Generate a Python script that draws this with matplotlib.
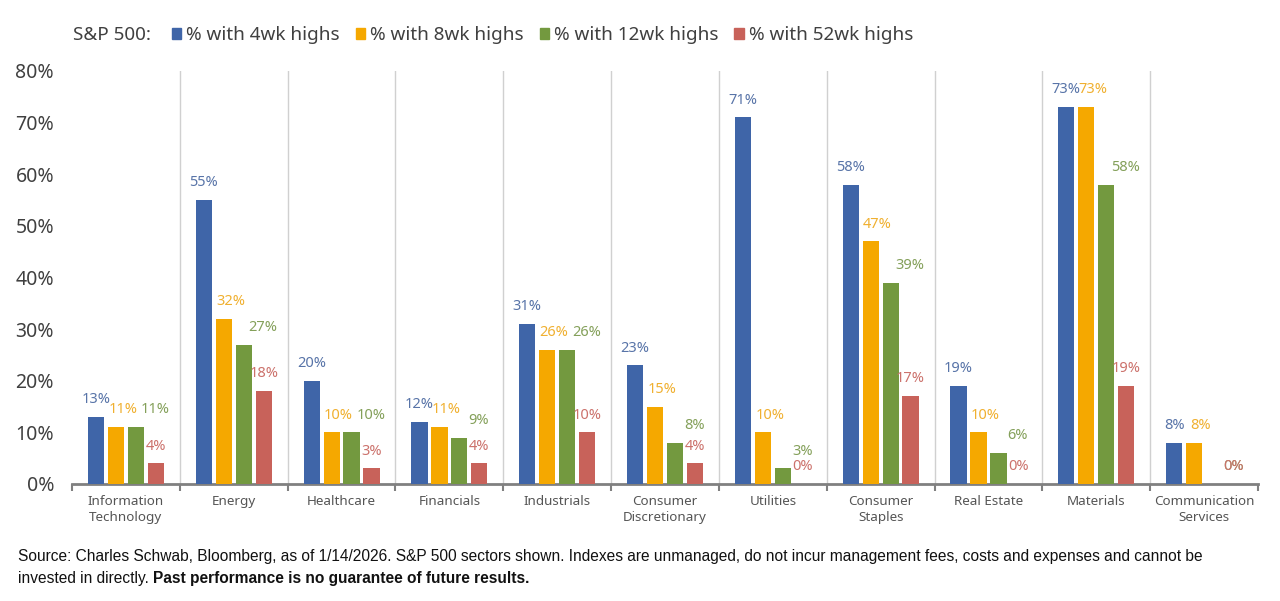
import numpy as np
import matplotlib.pyplot as plt
from matplotlib.patches import Patch

plt.rcParams['font.family'] = ['Noto Sans', 'DejaVu Sans']

# Datos
sectors = ['Information\nTechnology', 'Energy', 'Healthcare', 'Financials', 'Industrials',
           'Consumer\nDiscretionary', 'Utilities', 'Consumer\nStaples', 'Real Estate',
           'Materials', 'Communication\nServices']
series_names = ['% with 4wk highs', '% with 8wk highs', '% with 12wk highs', '% with 52wk highs']
wk4 = [13, 55, 20, 12, 31, 23, 71, 58, 19, 73, 8]
wk8 = [11, 32, 10, 11, 26, 15, 10, 47, 10, 73, 8]
wk12 = [11, 27, 10, 9, 26, 8, 3, 39, 6, 58, 0]
wk52 = [4, 18, 3, 4, 10, 4, 0, 17, 0, 19, 0]
yticks = [0, 10, 20, 30, 40, 50, 60, 70, 80]

bar_colors = ['#3F65A8', '#F5A800', '#73993F', '#C8625A']
label_colors = ['#5874A8', '#F0B030', '#84A05A', '#CC726C']
label_dx = [0, 5, 14, 0]

fig = plt.figure(figsize=(12.8, 6.01), dpi=100)
ax = fig.add_axes([0.0563, 0.1947, 0.9265, 0.6872])

x = np.arange(len(sectors))
width = 0.15
step = 0.185
all_series = [wk4, wk8, wk12, wk52]
for i, vals in enumerate(all_series):
    pos = x + (i - 1.5) * step
    ax.bar(pos, vals, width, color=bar_colors[i], zorder=3)
    for xp, v in zip(pos, vals):
        ax.annotate(f'{v:.0f}%', (xp, v), xytext=(label_dx[i], 7), textcoords='offset points',
                    ha='center', va='bottom', fontsize=10.5, color=label_colors[i])

ax.set_xlim(-0.5, len(sectors) - 0.5)
ax.set_ylim(0, 80)
ax.set_yticks(yticks)
ax.set_yticklabels([f'{t}%' for t in yticks], fontsize=14, color='#404040')
ax.tick_params(axis='y', length=0, pad=13)

# separadores verticales entre categorias
for b in np.arange(0.5, len(sectors) - 1, 1.0):
    ax.axvline(b, color='#D0D0D0', linewidth=1, zorder=1)

ax.set_xticks(x)
ax.set_xticklabels(sectors, fontsize=9.7, color='#555555', linespacing=1.3)
ax.tick_params(axis='x', length=0, pad=8)
ax.set_xticks(np.arange(-0.5, len(sectors), 1.0), minor=True)
ax.tick_params(axis='x', which='minor', length=5, width=1.5, color='#808080', direction='out')

for s in ['top', 'right', 'left']:
    ax.spines[s].set_visible(False)
ax.spines['bottom'].set_color('#808080')
ax.spines['bottom'].set_linewidth(2)

# Leyenda
fig.text(73 / 1280, 1 - 35 / 601, 'S&P 500:', fontsize=13.6, color='#404040', va='center')
handles = [Patch(color=c) for c in bar_colors]
fig.legend(handles, series_names, loc='center left', bbox_to_anchor=(172 / 1280, 1 - 35 / 601),
           ncol=4, frameon=False, fontsize=13.6, handlelength=0.5, handleheight=0.5,
           handletextpad=0.25, columnspacing=0.85, labelcolor='#404040', borderaxespad=0,
           borderpad=0)

# Nota
fs = 11.2
foot = ['Liberation Sans', 'DejaVu Sans']
fig.text(18 / 1280, 1 - 557 / 601,
         'Source: Charles Schwab, Bloomberg, as of 1/14/2026. S&P 500 sectors shown. Indexes are unmanaged, '
         'do not incur management fees, costs and expenses and cannot be',
         fontsize=fs, color='#111111', va='center', family=foot)
t2 = fig.text(18 / 1280, 1 - 579 / 601, 'invested in directly. ', fontsize=fs, color='#111111',
              va='center', family=foot)
r = fig.canvas.get_renderer()
bb = t2.get_window_extent(renderer=r)
fig.text(bb.x1 / fig.bbox.width, 1 - 579 / 601, 'Past performance is no guarantee of future results.',
         fontsize=fs, color='#111111', va='center', fontweight='bold', family=foot)

fig.savefig('out.png', dpi=100)
